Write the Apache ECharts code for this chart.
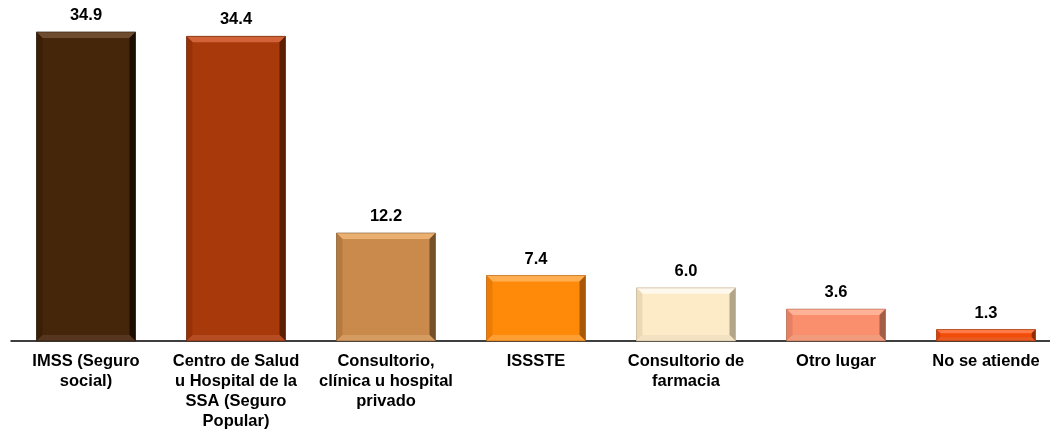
<!DOCTYPE html>
<html>
<head>
<meta charset="utf-8">
<script src="https://cdn.jsdelivr.net/npm/echarts@6/dist/echarts.min.js"></script>
<style>
html, body { margin: 0; padding: 0; background: #fff; }
#chart { width: 1050px; height: 431px; }
</style>
</head>
<body>
<div id="chart"></div>
<script>
var categories = ['IMSS (Seguro\nsocial)', 'Centro de Salud\nu Hospital de la\nSSA (Seguro\nPopular)',
    'Consultorio,\nclínica u hospital\nprivado', 'ISSSTE', 'Consultorio de\nfarmacia', 'Otro lugar', 'No se atiende'];
var values = [34.9, 34.4, 12.2, 7.4, 6.0, 3.6, 1.3];
var barColors = ['#45260a', '#a8390a', '#c98a4b', '#ff8a0a', '#fdebc8', '#f98f6c', '#f24c0a'];
var topColors = ['#6e4c30', '#d26238', '#eab072', '#ffae52', '#fff8ec', '#ffb296', '#ff7a44'];
var bottomColors = ['#573620', '#b64c22', '#d59c62', '#ff9e32', '#f3e2c2', '#f19a7c', '#e85a22'];
var leftColors = ['#3a1f06', '#963206', '#b67a40', '#ec7c06', '#ecd9b4', '#e68062', '#d84208'];
var rightColors = ['#1c0e02', '#5c1f04', '#76502a', '#a85806', '#b3a58a', '#a45e46', '#8e2c04'];

var chart = echarts.init(document.getElementById('chart'));

var font = 'bold 16.5px "Liberation Sans", Arial, sans-serif';

function renderBar(params, api) {
    var i = api.value(0);
    var topPt = api.coord([i, api.value(1)]);
    var basePt = api.coord([i, 0]);
    var w = api.size([1, 0])[0] * 0.66;
    var l = topPt[0] - w / 2, r = topPt[0] + w / 2;
    var t = topPt[1], b = basePt[1];
    var h = b - t;
    var e = Math.min(6, h / 3);
    return {
        type: 'group',
        children: [
            { type: 'rect', shape: { x: l, y: t, width: w, height: h },
              style: { fill: barColors[i] } },
            { type: 'polygon', shape: { points: [[l, t], [r, t], [r - e, t + e], [l + e, t + e]] },
              style: { fill: topColors[i] } },
            { type: 'polygon', shape: { points: [[l, t], [l + e, t + e], [l + e, b - e], [l, b]] },
              style: { fill: leftColors[i] } },
            { type: 'polygon', shape: { points: [[r, t], [r, b], [r - e, b - e], [r - e, t + e]] },
              style: { fill: rightColors[i] } },
            { type: 'polygon', shape: { points: [[l, b], [r, b], [r - e, b - e], [l + e, b - e]] },
              style: { fill: bottomColors[i] } },
            { type: 'rect', shape: { x: l, y: t, width: w, height: h },
              style: { fill: 'none', stroke: rightColors[i], lineWidth: 0.8, opacity: 0.7 } },
            { type: 'text', x: topPt[0], y: t - 8,
              style: { text: api.value(1).toFixed(1), font: font, fill: '#000',
                       align: 'center', verticalAlign: 'bottom' } }
        ]
    };
}

var option = {
    animation: false,
    grid: { left: 11, width: 1050, top: 31, bottom: 90, containLabel: false, outerBoundsMode: 'none' },
    xAxis: {
        type: 'category',
        data: categories,
        axisLine: { lineStyle: { color: '#000', width: 1.5 } },
        axisTick: { show: false },
        axisLabel: {
            interval: 0,
            margin: 10,
            color: '#000',
            fontFamily: '"Liberation Sans", Arial, sans-serif',
            fontWeight: 'bold',
            fontSize: 16.5,
            lineHeight: 20
        }
    },
    yAxis: {
        type: 'value',
        min: 0,
        max: 35,
        show: false,
        splitLine: { show: false }
    },
    series: [{
        type: 'custom',
        renderItem: renderBar,
        encode: { x: 0, y: 1 },
        data: values.map(function (v, i) { return [i, v]; })
    }]
};

chart.setOption(option);
window.addEventListener('resize', chart.resize);
</script>
</body>
</html>
